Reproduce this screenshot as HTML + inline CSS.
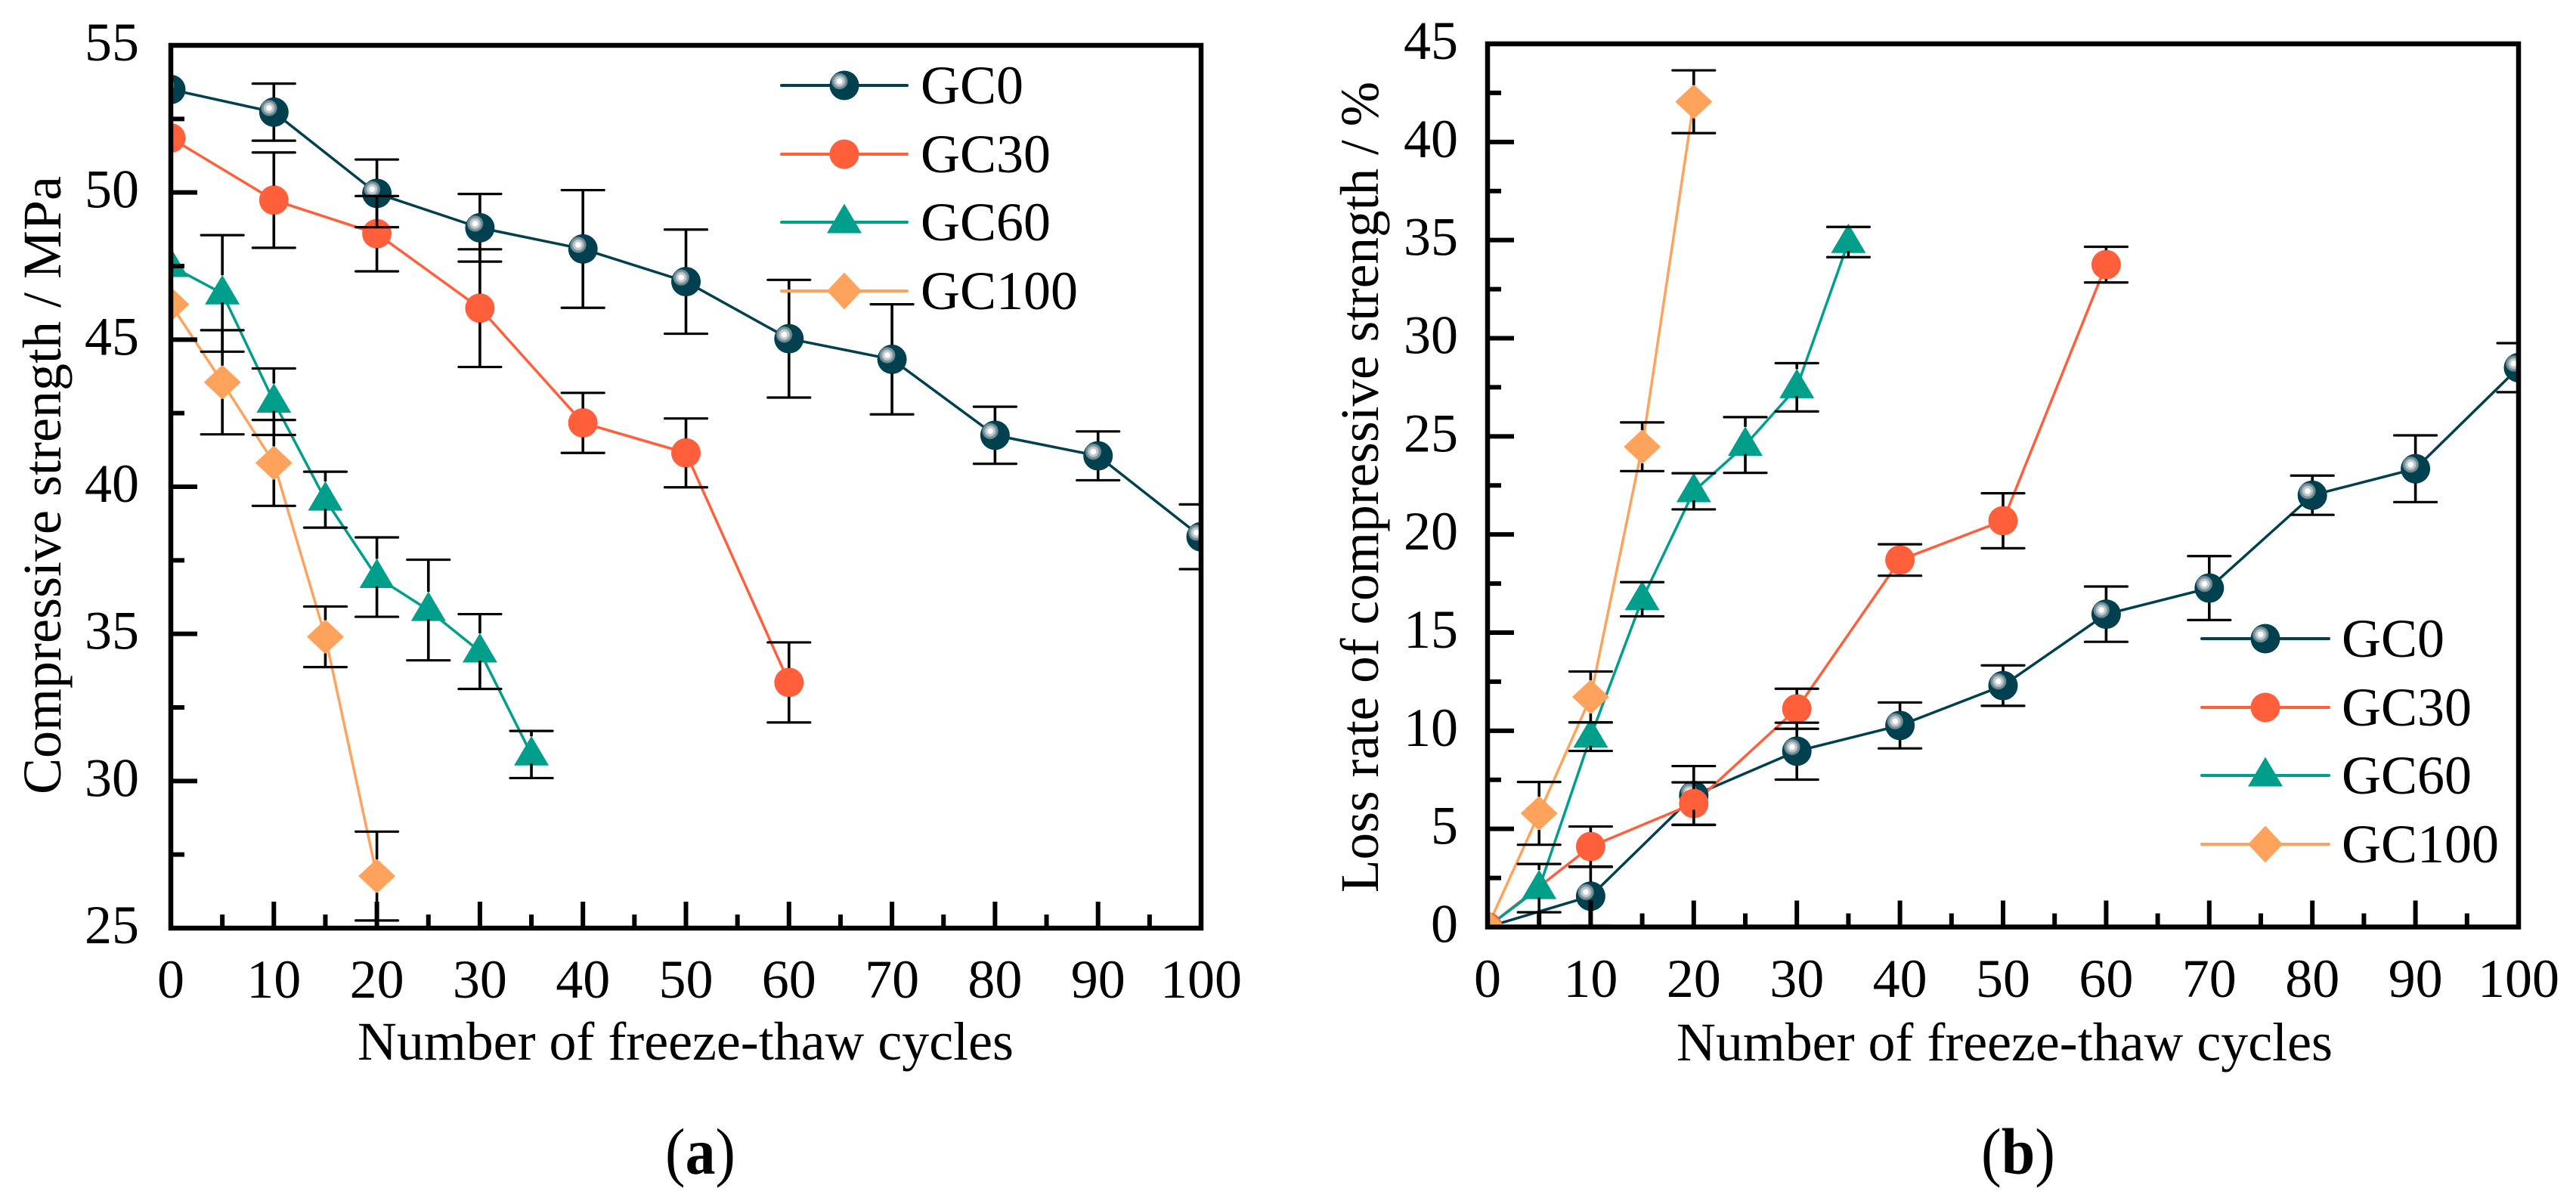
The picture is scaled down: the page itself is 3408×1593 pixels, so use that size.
<!DOCTYPE html>
<html lang="en">
<head>
<meta charset="utf-8">
<title>Compressive strength and loss rate vs freeze-thaw cycles</title>
<style>
html,body{margin:0;padding:0;background:#fff;}
svg{display:block;}
text{font-family:"Liberation Serif",serif;fill:#000;}
</style>
</head>
<body>
<svg id="figure" xmlns="http://www.w3.org/2000/svg" width="3408" height="1593" viewBox="0 0 3408 1593">
  <defs>
    <radialGradient id="sphere-glint">
      <stop offset="0" stop-color="#ffffff"/>
      <stop offset="0.3" stop-color="#ffffff"/>
      <stop offset="0.36" stop-color="#c9d2d5"/>
      <stop offset="0.62" stop-color="#b3c0c4"/>
      <stop offset="0.68" stop-color="#83989f"/>
      <stop offset="0.9" stop-color="#6d878f"/>
      <stop offset="1" stop-color="#1f5563"/>
    </radialGradient>
    <clipPath id="clip-a"><rect x="229" y="63" width="1357" height="1162"/></clipPath>
    <clipPath id="clip-b"><rect x="1971" y="61" width="1358" height="1162"/></clipPath>
  </defs>
  <g id="panel-a"></g>
  <g id="panel-b"></g>
  <text x="473" y="1402" font-size="72" textLength="868" lengthAdjust="spacingAndGlyphs">Number of freeze-thaw cycles</text>
  <text transform="translate(80,1051) rotate(-90)" font-size="72" textLength="818" lengthAdjust="spacingAndGlyphs">Compressive strength / MPa</text>
  <text x="2218" y="1403" font-size="72" textLength="868" lengthAdjust="spacingAndGlyphs">Number of freeze-thaw cycles</text>
  <text transform="translate(1823,1181) rotate(-90)" font-size="72" textLength="1073" lengthAdjust="spacingAndGlyphs">Loss rate of compressive strength / %</text>
  <text x="880" y="1553" font-size="87" textLength="93" lengthAdjust="spacingAndGlyphs">(<tspan font-weight="bold">a</tspan>)</text>
  <text x="2621" y="1553" font-size="87" textLength="98" lengthAdjust="spacingAndGlyphs">(<tspan font-weight="bold">b</tspan>)</text>
</svg>
<script>
// ---- tick labels ----
const cycleTickLabels = [0, 10, 20, 30, 40, 50, 60, 70, 80, 90, 100];
const strengthTickLabels = [25, 30, 35, 40, 45, 50, 55];
const lossTickLabels = [0, 5, 10, 15, 20, 25, 30, 35, 40, 45];
const seriesNames = ['GC0', 'GC30', 'GC60', 'GC100'];

// ---- panel (a): compressive strength / MPa ----
const gc0CyclesA = [0, 10, 20, 30, 40, 50, 60, 70, 80, 90, 100];
const gc0StrengthA = [53.5, 52.73, 49.97, 48.8, 48.08, 46.97, 45.03, 44.33, 41.75, 41.05, 38.3];
const gc0ErrorA = [0, 0.97, 1.15, 1.15, 2.0, 1.77, 2.0, 1.87, 0.97, 0.83, 1.1];

const gc30CyclesA = [0, 10, 20, 30, 40, 50, 60];
const gc30StrengthA = [51.85, 49.74, 48.6, 46.07, 42.17, 41.15, 33.35];
const gc30ErrorA = [0, 1.62, 1.28, 2.0, 1.02, 1.17, 1.36];

const gc60CyclesA = [0, 5, 10, 15, 20, 25, 30, 35];
const gc60StrengthA = [47.5, 46.57, 42.89, 39.56, 36.93, 35.81, 34.4, 30.9];
const gc60ErrorA = [0, 1.98, 1.13, 0.95, 1.35, 1.71, 1.27, 0.8];

const gc100CyclesA = [0, 5, 10, 15, 20];
const gc100StrengthA = [46.2, 43.55, 40.81, 34.9, 26.77];
const gc100ErrorA = [0, 1.77, 1.46, 1.03, 1.51];

// ---- panel (b): loss rate of compressive strength / % ----
const gc0CyclesB = [0, 10, 20, 30, 40, 50, 60, 70, 80, 90, 100];
const gc0LossB = [0, 1.57, 6.7, 8.96, 10.27, 12.3, 15.94, 17.27, 22.0, 23.35, 28.5];
const gc0ErrorB = [0, 1.49, 1.5, 1.45, 1.17, 1.03, 1.41, 1.63, 1.0, 1.7, 1.25];

const gc30CyclesB = [0, 10, 20, 30, 40, 50, 60];
const gc30LossB = [0, 4.1, 6.29, 11.12, 18.7, 20.7, 33.75];
const gc30ErrorB = [0, 1.02, 1.08, 1.02, 0.8, 1.4, 0.91];

const gc60CyclesB = [0, 5, 10, 15, 20, 25, 30, 35];
const gc60LossB = [0, 1.98, 9.7, 16.7, 22.2, 24.56, 27.5, 34.9];
const gc60ErrorB = [0, 1.23, 0.73, 0.87, 0.92, 1.42, 1.23, 0.77];

const gc100CyclesB = [0, 5, 10, 15, 20];
const gc100LossB = [0, 5.79, 11.72, 24.47, 42.05];
const gc100ErrorB = [0, 1.6, 1.3, 1.24, 1.6];

// ---- drawing ----
const NS = 'http://www.w3.org/2000/svg';
const COLORS = ['#00404f', '#ff5f3b', '#009f8c', '#ffa25c'];
const SHAPES = ['sphere', 'circle', 'triangle', 'diamond'];
const GAP_UP = {sphere: 19, circle: 19, triangle: 24, diamond: 22};
const GAP_DOWN = {sphere: 19, circle: 19, triangle: 12, diamond: 22};

function make(tag, parent, attrs) {
  const node = document.createElementNS(NS, tag);
  for (const key in attrs) node.setAttribute(key, attrs[key]);
  parent.appendChild(node);
  return node;
}

function drawMarker(parent, shape, color, cx, cy, name, legendSize) {
  const g = make('g', parent, {});
  
  
  if (shape === 'sphere' || shape === 'circle') {
    make('circle', g, {cx: cx, cy: cy, r: 19.5, fill: color});
    if (shape === 'sphere') {
      make('circle', g, {cx: cx - 6.3, cy: cy - 5.5, r: 11, fill: 'url(#sphere-glint)'});
    }
  } else if (shape === 'triangle') {
    const pts = [[cx, cy - 24.5], [cx + 23, cy + 14.5], [cx - 23, cy + 14.5]];
    make('polygon', g, {points: pts.map(function (p) { return p.join(','); }).join(' '), fill: color});
  } else {
    const hw = legendSize ? 23 : 24.5;
    const hh = legendSize ? 24.5 : 23;
    const pts = [[cx, cy - hh], [cx + hw, cy], [cx, cy + hh], [cx - hw, cy]];
    make('polygon', g, {points: pts.map(function (p) { return p.join(','); }).join(' '), fill: color});
  }
}

function drawPanel(root, cfg, cyclesList, valuesList, errorsList, yLabels, legend) {
  const xScale = function (v) { return cfg.left + (v - 0) * (cfg.right - cfg.left) / 100; };
  const yScale = function (v) { return cfg.bottom - (v - cfg.yMin) * (cfg.bottom - cfg.top) / (cfg.yMax - cfg.yMin); };

  const plot = make('g', root, {'clip-path': 'url(#' + cfg.clip + ')'});
  
  

  // series lines
  cyclesList.forEach(function (cycles, s) {
    const pts = cycles.map(function (c, i) { return xScale(c) + ',' + yScale(valuesList[s][i]); }).join(' ');
    const line = make('polyline', plot, {points: pts, fill: 'none', stroke: COLORS[s], 'stroke-width': 3.5, 'stroke-linejoin': 'round'});
    
    
  });

  // markers
  cyclesList.forEach(function (cycles, s) {
    cycles.forEach(function (c, i) {
      drawMarker(plot, SHAPES[s], COLORS[s], xScale(c), yScale(valuesList[s][i]), 'point-' + seriesNames[s].toLowerCase() + '-' + c, false);
    });
  });

  // error bars: stems run from the symbol edge out to the caps
  cyclesList.forEach(function (cycles, s) {
    cycles.forEach(function (c, i) {
      const err = errorsList[s][i];
      if (!err) return;
      const x = xScale(c);
      const y = yScale(valuesList[s][i]);
      const hi = yScale(valuesList[s][i] + err);
      const lo = yScale(valuesList[s][i] - err);
      const up = y - GAP_UP[SHAPES[s]];
      const down = y + GAP_DOWN[SHAPES[s]];
      let path = '';
      if (hi < up) path += 'M' + x + ' ' + up + 'L' + x + ' ' + hi;
      if (lo > down) path += 'M' + x + ' ' + down + 'L' + x + ' ' + lo;
      const caps = 'M' + (x - 28) + ' ' + hi + 'L' + (x + 28) + ' ' + hi +
        'M' + (x - 28) + ' ' + lo + 'L' + (x + 28) + ' ' + lo;
      const stem = make('path', plot, {d: path, stroke: '#000', 'stroke-width': 3.6, fill: 'none'});
      
      
      const cap = make('path', plot, {d: caps, stroke: '#000', 'stroke-width': 3.2, fill: 'none', 'stroke-linecap': 'round'});
      
      
    });
  });

  // legend
  const legendGroup = make('g', root, {});
  
  
  seriesNames.forEach(function (name, s) {
    const entry = make('g', legendGroup, {});
    
    
    const ly = legend.y[s];
    make('line', entry, {x1: legend.x1, x2: legend.x2, y1: ly, y2: ly, stroke: COLORS[s], 'stroke-width': 4, 'stroke-linecap': 'round'});
    drawMarker(entry, SHAPES[s], COLORS[s], (legend.x1 + legend.x2) / 2, ly, 'legend-marker-' + name.toLowerCase(), true);
    const label = make('text', entry, {x: legend.textX, y: ly + 24, 'font-size': 72});
    label.textContent = name;
  });

  // axes frame
  const frame = make('rect', root, {x: cfg.left, y: cfg.top, width: cfg.right - cfg.left, height: cfg.bottom - cfg.top, fill: 'none', stroke: '#000', 'stroke-width': 6.5});
  
  

  // x ticks
  const xAxis = make('g', root, {});
  
  
  cycleTickLabels.forEach(function (label, i) {
    const x = xScale(label);
    make('line', xAxis, {x1: x, x2: x, y1: cfg.bottom, y2: cfg.bottom - 35, stroke: '#000', 'stroke-width': 6});
    if (i < cycleTickLabels.length - 1) {
      const xm = xScale((label + cycleTickLabels[i + 1]) / 2);
      make('line', xAxis, {x1: xm, x2: xm, y1: cfg.bottom, y2: cfg.bottom - 18, stroke: '#000', 'stroke-width': 6});
    }
    const t = make('text', xAxis, {x: x, y: cfg.xLabelY, 'font-size': 72, 'text-anchor': 'middle'});
    t.textContent = label;
  });

  // y ticks
  const yAxis = make('g', root, {});
  
  
  yLabels.forEach(function (label, i) {
    const y = yScale(label);
    make('line', yAxis, {x1: cfg.left, x2: cfg.left + 35, y1: y, y2: y, stroke: '#000', 'stroke-width': 6});
    if (i < yLabels.length - 1) {
      const ym = yScale((label + yLabels[i + 1]) / 2);
      make('line', yAxis, {x1: cfg.left, x2: cfg.left + 18, y1: ym, y2: ym, stroke: '#000', 'stroke-width': 6});
    }
    const t = make('text', yAxis, {x: cfg.yLabelX, y: y + 20, 'font-size': 72, 'text-anchor': 'end'});
    t.textContent = label;
  });
}

drawPanel(
  document.getElementById('panel-a'),
  {left: 226, right: 1589, top: 60, bottom: 1228, yMin: 25, yMax: 55, clip: 'clip-a', xLabelY: 1320, yLabelX: 184},
  [gc0CyclesA, gc30CyclesA, gc60CyclesA, gc100CyclesA],
  [gc0StrengthA, gc30StrengthA, gc60StrengthA, gc100StrengthA],
  [gc0ErrorA, gc30ErrorA, gc60ErrorA, gc100ErrorA],
  strengthTickLabels,
  {x1: 1034, x2: 1200, y: [113, 204, 294, 385], textX: 1218}
);

drawPanel(
  document.getElementById('panel-b'),
  {left: 1968, right: 3332, top: 58, bottom: 1226.5, yMin: 0, yMax: 45, clip: 'clip-b', xLabelY: 1319, yLabelX: 1929},
  [gc0CyclesB, gc30CyclesB, gc60CyclesB, gc100CyclesB],
  [gc0LossB, gc30LossB, gc60LossB, gc100LossB],
  [gc0ErrorB, gc30ErrorB, gc60ErrorB, gc100ErrorB],
  lossTickLabels,
  {x1: 2913, x2: 3081, y: [845, 936, 1026, 1117], textX: 3098}
);
</script>
</body>
</html>
